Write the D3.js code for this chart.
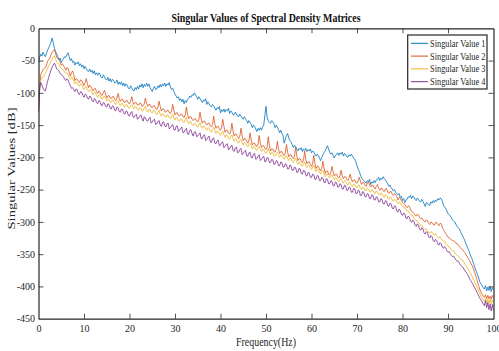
<!DOCTYPE html>
<html>
<head>
<meta charset="utf-8">
<script src="https://d3js.org/d3.v7.min.js"></script>
<style>
  body { margin: 0; background: #fff; }
  text { font-family: "Liberation Serif", "Times New Roman", serif; }
</style>
</head>
<body>
<script>
// chart size, same as the window
var width = 499,
    height = 351;

// plot box inside the window
var margin = { top: 28.3, right: 5.5, bottom: 32.3, left: 38.5 };

// x grid of the spectra: one sample every quarter hertz
var freqStep = 0.25;

var seriesNames = ["Singular Value 1", "Singular Value 2", "Singular Value 3", "Singular Value 4"];
var seriesColors = ["#0072BD", "#D95319", "#EDB120", "#7E2F8E"];

var xTicks = [0, 10, 20, 30, 40, 50, 60, 70, 80, 90, 100];
var yTicks = [0, -50, -100, -150, -200, -250, -300, -350, -400, -450];

// values in dB, four samples per hertz (one row = one hertz)
var sv1 = [
  -52, -45, -40, -43,   -37, -41, -44, -39,   -34, -30, -26, -22,   -15, -22, -31, -36,   -40, -44, -49, -46,
  -53, -50, -47, -44,   -45, -41, -38, -44,   -50, -47, -53, -51,   -57, -53, -55, -52,   -58, -55, -60, -57,
  -63, -59, -62, -66,   -67, -63, -68, -65,   -70, -66, -72, -69,   -73, -69, -71, -76,   -77, -72, -75, -79,
  -80, -76, -82, -78,   -83, -79, -81, -85,   -84, -80, -87, -83,   -87, -83, -89, -85,   -90, -86, -88, -93,
  -94, -89, -92, -96,   -97, -92, -95, -90,   -94, -88, -91, -86,   -92, -87, -90, -85,   -90, -86, -92, -95,
  -98, -93, -90, -95,   -94, -89, -92, -87,   -91, -86, -89, -85,   -90, -86, -88, -84,   -91, -95, -93, -98,
  -102, -105, -108, -106, -112, -109, -114, -110, -117, -112, -115, -110, -109, -105, -107, -103, -104, -100, -103, -106,
  -110, -106, -109, -112, -115, -111, -113, -109, -118, -114, -117, -120, -122, -118, -120, -124, -127, -123, -125, -121,
  -131, -126, -129, -125, -130, -126, -128, -124, -132, -128, -130, -134, -134, -130, -133, -136, -137, -133, -136, -139,
  -141, -137, -140, -143, -147, -143, -146, -149, -154, -150, -152, -156, -160, -155, -158, -154, -158, -153, -150, -135,
  -121, -138, -143, -146, -147, -143, -145, -148, -154, -150, -153, -157, -162, -158, -163, -166, -178, -172, -166, -163,
  -170, -174, -176, -180, -185, -181, -183, -187, -190, -186, -188, -185, -191, -187, -189, -186, -191, -188, -190, -187,
  -193, -190, -192, -195, -198, -195, -197, -201, -205, -200, -196, -193, -190, -186, -182, -187, -192, -195, -193, -197,
  -201, -197, -196, -193, -197, -193, -195, -192, -198, -194, -196, -199, -200, -196, -198, -195, -198, -201, -203, -207,
  -213, -218, -222, -227, -232, -234, -236, -238, -240, -236, -238, -234, -242, -238, -240, -236, -239, -235, -234, -231,
  -236, -232, -234, -230, -233, -235, -238, -241, -245, -243, -247, -249, -252, -250, -254, -256, -258, -256, -262, -260,
  -267, -264, -270, -266, -265, -261, -262, -259, -264, -260, -261, -265, -267, -263, -265, -268, -269, -265, -268, -272,
  -276, -270, -271, -274, -274, -269, -271, -267, -270, -266, -268, -264, -266, -263, -264, -268, -274, -277, -279, -283,
  -287, -289, -291, -294, -297, -299, -300, -304, -307, -309, -311, -315, -319, -322, -326, -330, -335, -339, -343, -348,
  -353, -357, -362, -367, -373, -377, -382, -387, -393, -396, -399, -402, -404, -399, -407, -401, -406, -400, -408, -402,
  -405];

var sv2 = [
  -128, -95, -72, -68,  -64, -62, -61, -57,   -51, -48, -46, -41,   -37, -35, -33, -39,   -45, -47, -48, -52,
  -57, -55, -58, -61,   -65, -61, -62, -68,   -74, -69, -66, -72,   -81, -78, -79, -82,   -84, -80, -81, -85,
  -89, -84, -78, -86,   -92, -88, -90, -94,   -97, -94, -93, -98,   -101, -97, -99, -103, -104, -100, -96, -102,
  -108, -105, -104, -108, -109, -106, -106, -110, -112, -108, -101, -109, -113, -110, -110, -114, -115, -112, -112, -116,
  -117, -113, -106, -114, -118, -115, -115, -119, -119, -116, -116, -121, -120, -117, -108, -116, -121, -118, -118, -122,
  -123, -120, -120, -124, -126, -122, -113, -121, -128, -125, -125, -129, -130, -127, -127, -131, -132, -128, -118, -127,
  -134, -131, -131, -135, -136, -133, -133, -137, -138, -134, -122, -133, -140, -137, -137, -141, -143, -140, -140, -144,
  -145, -141, -130, -140, -147, -144, -144, -148, -150, -147, -147, -151, -153, -149, -136, -148, -155, -152, -152, -156,
  -158, -153, -141, -152, -161, -158, -158, -162, -164, -160, -147, -159, -167, -164, -164, -168, -171, -167, -155, -166,
  -174, -171, -171, -175, -178, -174, -162, -173, -181, -178, -178, -182, -183, -179, -166, -178, -185, -182, -182, -186,
  -188, -184, -168, -182, -190, -187, -187, -191, -192, -188, -175, -187, -194, -191, -191, -195, -197, -193, -180, -192,
  -199, -196, -196, -200, -202, -198, -184, -197, -205, -202, -202, -206, -208, -204, -190, -203, -210, -207, -207, -211,
  -214, -210, -197, -209, -217, -214, -214, -218, -221, -217, -206, -216, -225, -221, -221, -226, -227, -223, -214, -222,
  -229, -226, -226, -230, -232, -228, -220, -229, -233, -230, -230, -234, -236, -232, -226, -233, -238, -235, -235, -239,
  -240, -236, -231, -237, -242, -239, -239, -243, -245, -241, -237, -243, -246, -243, -243, -247, -249, -245, -242, -247,
  -251, -248, -248, -252, -253, -249, -248, -254, -256, -253, -253, -257, -259, -256, -257, -261, -266, -262, -263, -267,
  -270, -271, -273, -276, -278, -275, -276, -280, -284, -285, -287, -289, -291, -288, -289, -293, -295, -294, -297, -299,
  -300, -297, -298, -302, -304, -300, -301, -304, -305, -301, -301, -304, -306, -302, -303, -308, -312, -315, -318, -321,
  -324, -324, -326, -328, -329, -329, -331, -333, -334, -335, -338, -340, -342, -343, -346, -348, -351, -354, -357, -360,
  -364, -367, -371, -376, -381, -387, -393, -399, -405, -409, -412, -415, -417, -413, -419, -414, -419, -415, -420, -414,
  -418];

var sv3 = [
  -112, -90, -80, -78,  -75, -73, -70, -66,   -62, -58, -55, -51,   -48, -45, -43, -47,   -52, -54, -56, -60,
  -62, -63, -65, -68,   -70, -69, -72, -76,   -79, -75, -77, -82,   -86, -83, -84, -88,   -90, -86, -87, -92,
  -95, -91, -90, -95,   -98, -95, -96, -100,  -103, -99, -99, -104, -107, -103, -104, -108, -110, -106, -105, -109,
  -113, -109, -110, -114, -115, -111, -112, -116, -118, -114, -112, -117, -120, -116, -117, -121, -122, -118, -119, -123,
  -124, -120, -118, -122, -125, -121, -122, -126, -127, -123, -124, -128, -128, -124, -121, -127, -130, -126, -126, -130,
  -131, -127, -128, -132, -134, -130, -127, -133, -136, -132, -133, -137, -138, -134, -135, -139, -140, -136, -133, -139,
  -142, -138, -139, -143, -144, -140, -141, -145, -146, -142, -138, -145, -148, -144, -145, -149, -151, -147, -148, -152,
  -153, -149, -146, -152, -155, -151, -152, -156, -158, -154, -155, -159, -161, -157, -153, -159, -163, -159, -160, -164,
  -166, -162, -159, -165, -169, -165, -166, -170, -172, -168, -165, -171, -175, -171, -172, -176, -178, -174, -172, -177,
  -181, -177, -178, -182, -184, -180, -178, -183, -187, -183, -184, -188, -189, -185, -183, -188, -191, -187, -188, -192,
  -194, -190, -186, -192, -196, -192, -193, -197, -198, -194, -192, -197, -200, -196, -197, -201, -203, -199, -197, -202,
  -205, -201, -202, -206, -208, -204, -201, -207, -211, -207, -208, -212, -214, -210, -207, -213, -216, -212, -213, -217,
  -219, -215, -212, -218, -222, -218, -219, -223, -226, -222, -220, -225, -230, -226, -226, -230, -232, -228, -227, -231,
  -235, -231, -232, -236, -238, -234, -233, -237, -240, -236, -237, -241, -243, -239, -239, -243, -245, -241, -242, -246,
  -247, -243, -243, -248, -250, -246, -247, -251, -252, -248, -249, -253, -254, -250, -251, -255, -256, -252, -253, -257,
  -259, -255, -256, -260, -262, -258, -259, -263, -265, -261, -262, -266, -268, -265, -266, -270, -272, -269, -270, -274,
  -276, -276, -279, -281, -283, -283, -286, -288, -291, -290, -294, -296, -298, -298, -301, -303, -306, -305, -308, -310,
  -312, -311, -314, -316, -318, -315, -316, -319, -321, -318, -320, -323, -325, -323, -326, -328, -330, -330, -333, -335,
  -338, -338, -341, -343, -345, -345, -348, -350, -352, -353, -355, -357, -359, -360, -363, -366, -368, -371, -374, -377,
  -380, -384, -388, -391, -395, -399, -403, -407, -411, -415, -418, -421, -423, -419, -426, -420, -426, -420, -427, -421,
  -425];

var sv4 = [
  -130, -95, -84, -88,  -93, -96, -97, -90,   -82, -76, -70, -65,   -60, -57, -54, -58,   -63, -64, -66, -70,
  -72, -73, -75, -79,   -81, -78, -80, -85,   -89, -93, -92, -95,   -98, -94, -95, -101,  -103, -98, -99, -104,
  -107, -102, -103, -108, -110, -105, -106, -112, -114, -109, -110, -115, -117, -112, -113, -119, -120, -115, -116, -121,
  -122, -117, -118, -124, -125, -120, -121, -127, -128, -122, -123, -129, -130, -125, -126, -132, -133, -128, -129, -135,
  -136, -131, -129, -137, -138, -135, -133, -141, -139, -136, -134, -140, -144, -137, -139, -143, -144, -140, -138, -147,
  -145, -142, -141, -149, -148, -145, -143, -150, -152, -146, -145, -151, -153, -148, -147, -156, -154, -151, -149, -157,
  -158, -152, -151, -160, -158, -155, -153, -162, -161, -157, -155, -164, -164, -158, -157, -163, -167, -161, -160, -168,
  -167, -164, -162, -171, -171, -166, -165, -174, -172, -169, -167, -176, -177, -171, -170, -178, -179, -175, -173, -182,
  -181, -177, -176, -185, -183, -180, -179, -188, -187, -183, -181, -189, -191, -185, -184, -193, -192, -188, -186, -196,
  -194, -191, -189, -198, -198, -193, -192, -200, -201, -195, -194, -203, -202, -198, -196, -205, -203, -200, -198, -207,
  -206, -200, -201, -208, -208, -203, -204, -211, -210, -205, -206, -213, -213, -207, -208, -215, -215, -210, -211, -218,
  -218, -212, -213, -220, -220, -215, -216, -223, -223, -217, -218, -225, -226, -220, -221, -228, -229, -223, -224, -231,
  -231, -226, -227, -234, -234, -228, -229, -236, -236, -231, -232, -239, -239, -233, -234, -241, -241, -236, -237, -244,
  -244, -238, -239, -246, -246, -241, -242, -249, -249, -243, -244, -251, -251, -246, -247, -254, -254, -248, -249, -256,
  -256, -251, -252, -259, -259, -253, -254, -261, -261, -256, -257, -264, -264, -258, -259, -266, -266, -261, -262, -269,
  -269, -264, -265, -272, -272, -267, -268, -275, -276, -271, -272, -279, -280, -275, -276, -283, -285, -280, -282, -288,
  -290, -286, -288, -294, -295, -291, -293, -299, -301, -297, -299, -305, -307, -303, -305, -311, -313, -309, -311, -317,
  -319, -315, -317, -323, -325, -321, -323, -329, -331, -327, -329, -334, -336, -332, -334, -339, -341, -338, -340, -345,
  -347, -346, -349, -352, -354, -353, -356, -359, -361, -361, -364, -367, -369, -370, -373, -376, -378, -381, -384, -388,
  -391, -394, -397, -401, -404, -407, -411, -415, -418, -421, -424, -427, -430, -422, -433, -425, -436, -427, -438, -428,
  -438];

var allSeries = [sv1, sv2, sv3, sv4];

var svg = d3.select("body").append("svg")
    .attr("width", width)
    .attr("height", height);

var x = d3.scaleLinear()
    .domain([0, 100])
    .range([margin.left, width - margin.right]);

var y = d3.scaleLinear()
    .domain([-450, 0])
    .range([height - margin.bottom, margin.top]);

// clip the traces to the axes box
svg.append("clipPath").attr("id", "plotclip")
  .append("rect")
    .attr("x", margin.left)
    .attr("y", margin.top)
    .attr("width", width - margin.left - margin.right)
    .attr("height", height - margin.top - margin.bottom);

var line = d3.line()
    .x(function(d, i) { return x(i * freqStep); })
    .y(function(d) { return y(d); });

svg.append("g")
    .attr("clip-path", "url(#plotclip)")
  .selectAll("path")
  .data(allSeries)
  .enter().append("path")
    .attr("d", line)
    .attr("fill", "none")
    .attr("stroke", function(d, i) { return seriesColors[i]; })
    .attr("stroke-width", 0.8)
    .attr("stroke-linejoin", "round");

// axes, ticks point inward like matlab
var axisColor = "#262626";

var xAxis = svg.append("g")
    .attr("transform", "translate(0," + (height - margin.bottom) + ")")
    .call(d3.axisBottom(x).tickValues(xTicks).tickSizeInner(-5).tickSizeOuter(0).tickPadding(6.5)
      .tickFormat(function(d) { return String(d); }));

var xTop = svg.append("g")
    .attr("transform", "translate(0," + margin.top + ")")
    .call(d3.axisTop(x).tickValues(xTicks).tickSizeInner(-5).tickSizeOuter(0).tickFormat(""));

var yAxis = svg.append("g")
    .attr("transform", "translate(" + margin.left + ",0)")
    .call(d3.axisLeft(y).tickValues(yTicks).tickSizeInner(-5).tickSizeOuter(0).tickPadding(3.5)
      .tickFormat(function(d) { return String(d); }));

var yRight = svg.append("g")
    .attr("transform", "translate(" + (width - margin.right) + ",0)")
    .call(d3.axisRight(y).tickValues(yTicks).tickSizeInner(-5).tickSizeOuter(0).tickFormat(""));

[xAxis, xTop, yAxis, yRight].forEach(function(g) {
  g.select(".domain").attr("stroke", axisColor).attr("stroke-width", 1.2);
  g.selectAll(".tick line").attr("stroke", axisColor).attr("stroke-width", 0.8);
  g.selectAll(".tick text")
    .attr("fill", axisColor)
    .style("font-family", "'Liberation Serif', serif")
    .style("font-size", "10px");
});

// hide the ticks sitting on the box corners
xAxis.selectAll(".tick").filter(function(d) { return d === 0 || d === 100; }).select("line").remove();
xTop.selectAll(".tick").filter(function(d) { return d === 0 || d === 100; }).select("line").remove();
yAxis.selectAll(".tick").filter(function(d) { return d === 0 || d === -450; }).select("line").remove();
yRight.selectAll(".tick").filter(function(d) { return d === 0 || d === -450; }).select("line").remove();

// title and labels
svg.append("text")
    .attr("x", (margin.left + width - margin.right) / 2)
    .attr("y", 21.5)
    .attr("text-anchor", "middle")
    .attr("font-weight", "bold")
    .attr("font-size", 12)
    .attr("fill", "#111")
    .attr("textLength", 189)
    .attr("lengthAdjust", "spacingAndGlyphs")
    .text("Singular Values of Spectral Density Matrices");

svg.append("text")
    .attr("x", 266)
    .attr("y", 346)
    .attr("text-anchor", "middle")
    .attr("font-size", 11.5)
    .attr("fill", axisColor)
    .attr("textLength", 60)
    .attr("lengthAdjust", "spacingAndGlyphs")
    .text("Frequency(Hz)");

svg.append("text")
    .attr("transform", "translate(14.5,168.5) rotate(-90)")
    .attr("text-anchor", "middle")
    .attr("font-size", 10.5)
    .attr("fill", axisColor)
    .attr("textLength", 122)
    .attr("lengthAdjust", "spacingAndGlyphs")
    .text("Singular Values [dB]");

// legend box in the top right corner
var legend = svg.append("g");

legend.append("rect")
    .attr("x", 407.7)
    .attr("y", 35)
    .attr("width", 79.3)
    .attr("height", 54)
    .attr("fill", "#fff")
    .attr("stroke", "#262626")
    .attr("stroke-width", 1.2);

var items = legend.selectAll("g.item")
  .data(seriesNames)
  .enter().append("g")
    .attr("class", "item")
    .attr("transform", function(d, i) { return "translate(0," + (43.3 + i * 12.8) + ")"; });

items.append("line")
    .attr("x1", 411)
    .attr("x2", 428)
    .attr("stroke", function(d, i) { return seriesColors[i]; })
    .attr("stroke-width", 1);

items.append("text")
    .attr("x", 430)
    .attr("dy", "0.35em")
    .attr("font-size", 10)
    .attr("fill", axisColor)
    .attr("textLength", 55.5)
    .attr("lengthAdjust", "spacingAndGlyphs")
    .text(function(d) { return d; });
</script>
</body>
</html>
